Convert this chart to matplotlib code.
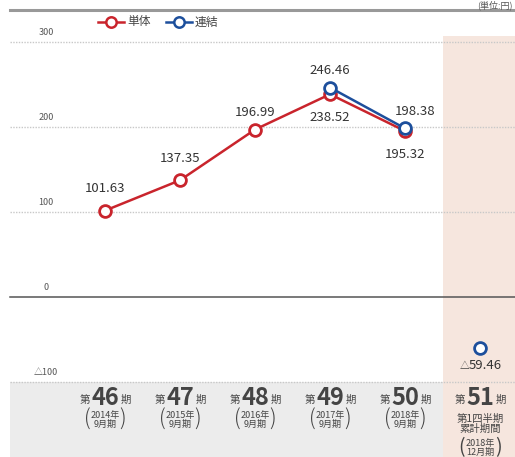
import numpy as np
import matplotlib
matplotlib.use("Agg")
from matplotlib import pyplot as plt
from matplotlib.patches import Rectangle

plt.rcParams['font.family'] = ['Noto Sans CJK JP', 'DejaVu Sans']

periods = ['46', '47', '48', '49', '50', '51']
sub_labels = ['2014年\n9月期', '2015年\n9月期', '2016年\n9月期', '2017年\n9月期', '2018年\n9月期']
last_sub = ['第1四半期', '累計期間', '2018年\n12月期']
tanntai = [101.63, 137.35, 196.99, 238.52, 195.32]
renketsu_x = [3, 4]
renketsu = [246.46, 198.38]
renketsu_q_x = 5
renketsu_q = -59.46
yticks = [300, 200, 100, 0, -100]
ytick_labels = ['300', '200', '100', '0', '△100']

red = '#c9242c'
blue = '#1d4f9c'
txt = '#444444'

W, H = 515, 457
fig = plt.figure(figsize=(W / 100, H / 100), dpi=100)
ax = fig.add_axes([0, 0, 1, 1])
ax.set_axis_off()

# pixel mapping: category i -> px 105 + 75*i, value v -> px 297 - 0.85*v
def px2x(px):
    return (px - 105) / 75.0
def py2v(py):
    return (297 - py) / 0.85

ax.set_xlim(px2x(0), px2x(W))
ax.set_ylim(py2v(H), py2v(0))

# backgrounds
ax.add_patch(Rectangle((px2x(10), py2v(H)), px2x(443) - px2x(10), py2v(382) - py2v(H),
                       color='#ececec', zorder=0, lw=0))
ax.add_patch(Rectangle((px2x(443), py2v(H)), px2x(W) - px2x(443), py2v(36) - py2v(H),
                       color='#f6e6de', zorder=0, lw=0))

# grid lines
for v, lab in zip(yticks, ytick_labels):
    if v == 0:
        ax.plot([px2x(10), px2x(W)], [0, 0], color='#555555', lw=1.1, zorder=1)
    else:
        ax.plot([px2x(10), px2x(W)], [v, v], color='#c8c8c8', lw=1.0, ls=(0, (1, 1)), zorder=1)
    ax.text(px2x(46), v + 6, lab, fontsize=6.5, color='#555555', ha='center', va='bottom')

# top rule and unit
ax.plot([px2x(10), px2x(W)], [py2v(10), py2v(10)], color='#999999', lw=2.2, zorder=1)
ax.text(px2x(W - 2), py2v(5), '(単位:円)', fontsize=6.5, color='#555555', ha='right', va='center')

# lines
ax.plot(range(len(tanntai)), tanntai, color=red, lw=1.8, marker='o', ms=8.5,
        mfc='white', mec=red, mew=2.0, zorder=3)
ax.plot(renketsu_x, renketsu, color=blue, lw=1.8, marker='o', ms=8.5,
        mfc='white', mec=blue, mew=2.0, zorder=4)
ax.plot([renketsu_q_x], [renketsu_q], color=blue, marker='o', ms=8.5,
        mfc='white', mec=blue, mew=2.0, zorder=4, ls='none')

# value labels
def lab(x, v, dx, dy, s):
    ax.annotate(s, (x, v), xytext=(dx, dy), textcoords='offset points',
                ha='center', va='center', fontsize=9.5, color='#333333', zorder=5)

lab(0, tanntai[0], 0, 16, f'{tanntai[0]:.2f}')
lab(1, tanntai[1], 0, 16, f'{tanntai[1]:.2f}')
lab(2, tanntai[2], 0, 12, f'{tanntai[2]:.2f}')
lab(3, tanntai[3], 0, -17, f'{tanntai[3]:.2f}')
lab(4, tanntai[4], 0, -17, f'{tanntai[4]:.2f}')
lab(3, renketsu[0], 0, 12, f'{renketsu[0]:.2f}')
lab(4, renketsu[1], 7, 12, f'{renketsu[1]:.2f}')
lab(renketsu_q_x, renketsu_q, 4, -13, f'{abs(renketsu_q):.2f}')
ax.annotate('△', (renketsu_q_x, renketsu_q), xytext=(-11, -13.5), textcoords='offset points',
            ha='center', va='center', fontsize=7, color='#444444', zorder=5)

# legend
ly = py2v(22)
ax.plot([px2x(98), px2x(124)], [ly, ly], color=red, lw=1.8, zorder=3)
ax.plot([px2x(111)], [ly], marker='o', ms=7.5, mfc='white', mec=red, mew=1.8, ls='none', zorder=4)
ax.text(px2x(127), ly, '単体', fontsize=8.5, color=txt, ha='left', va='center')
ax.plot([px2x(166), px2x(192)], [ly, ly], color=blue, lw=1.8, zorder=3)
ax.plot([px2x(179)], [ly], marker='o', ms=7.5, mfc='white', mec=blue, mew=1.8, ls='none', zorder=4)
ax.text(px2x(195), ly, '連結', fontsize=8.5, color=txt, ha='left', va='center')

# category labels
top_y = py2v(398)
for i, p in enumerate(periods):
    ax.text(i - 0.27, top_y - 2, '第', fontsize=7.5, color=txt, ha='center', va='center')
    ax.text(i, top_y, p, fontsize=17, fontweight='bold', color=txt, ha='center', va='center')
    ax.text(i + 0.28, top_y - 2, '期', fontsize=7.5, color=txt, ha='center', va='center')
    if i < len(sub_labels):
        sy = py2v(420)
        ax.text(i, sy, sub_labels[i], fontsize=6.5, color=txt, ha='center', va='center',
                linespacing=1.1)
        ax.text(i - 0.23, sy, '(', fontsize=15, color=txt, ha='center', va='center', fontweight='light')
        ax.text(i + 0.23, sy, ')', fontsize=15, color=txt, ha='center', va='center', fontweight='light')
    else:
        ax.text(i, py2v(414), last_sub[0] + '\n' + last_sub[1], fontsize=7.5, color=txt,
                ha='center', va='top', linespacing=1.0)
        sy = py2v(448)
        ax.text(i, sy, last_sub[2], fontsize=6.5, color=txt, ha='center', va='center',
                linespacing=1.0)
        ax.text(i - 0.24, sy, '(', fontsize=14, color=txt, ha='center', va='center')
        ax.text(i + 0.24, sy, ')', fontsize=14, color=txt, ha='center', va='center')

fig.savefig('out.png', dpi=100)
